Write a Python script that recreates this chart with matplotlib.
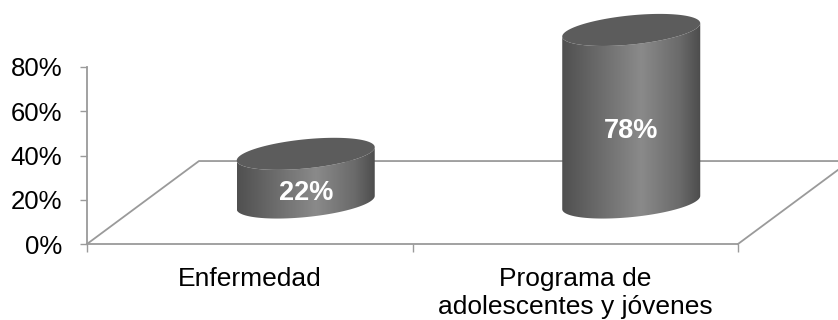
import numpy as np
import matplotlib.pyplot as plt
from matplotlib.colors import LinearSegmentedColormap
from matplotlib.patches import Polygon

plt.rcParams['font.family'] = ['Liberation Sans', 'DejaVu Sans']

categories = ['Enfermedad', 'Programa de\nadolescentes y jóvenes']
shares = [0.22, 0.78]
value_labels = ['22%', '78%']
yticks = [0, 0.2, 0.4, 0.6, 0.8]
ytick_labels = ['0%', '20%', '40%', '60%', '80%']

fig = plt.figure(figsize=(8.38, 3.2), dpi=100)
ax = fig.add_axes([87 / 838, 76 / 320, 651 / 838, 177 / 320])

# oblique depth of the floor and cylinder shape, in data units
depth_x, depth_y = 0.344, 0.375
rad_x, rad_y, tilt = 0.212, 0.066, 0.03
grey = '#9a9a9a'
n = len(categories)

# floor outline (front edge is the bottom spine)
ax.plot([0, depth_x, n + depth_x + 0.5], [0, depth_y, depth_y],
        color=grey, lw=1.3, clip_on=False, zorder=1)
ax.plot([n, n + depth_x], [0, depth_y], color=grey, lw=1.3, clip_on=False, zorder=1)

shade = LinearSegmentedColormap.from_list('shade', [
    (0.0, '#505050'), (0.15, '#5f5f5f'), (0.57, '#8a8a8a'),
    (0.85, '#6a6a6a'), (1.0, '#4c4c4c')])
grad = np.linspace(0, 1, 256).reshape(1, -1)
t = np.linspace(0, np.pi, 80)
tt = np.linspace(0, 2 * np.pi, 160)

for i, (v, lab) in enumerate(zip(shares, value_labels)):
    cx = i + 0.5 + depth_x / 2
    y0 = depth_y / 2
    y1 = y0 + v
    ex = cx + rad_x * np.cos(t)
    front = -rad_y * np.sin(t) + tilt * np.cos(t)
    xs = np.concatenate([ex[::-1], ex])
    ys = np.concatenate([y0 + front[::-1], y1 + front])
    body = Polygon(np.column_stack([xs, ys]), closed=True, facecolor='none',
                   edgecolor='none', clip_on=False)
    ax.add_patch(body)
    im = ax.imshow(grad, cmap=shade, aspect='auto', zorder=3,
                   extent=[cx - rad_x, cx + rad_x, y0 - 0.1, y1 + 0.1])
    im.set_clip_path(body)
    im.set_clip_box(fig.bbox)

    top = np.column_stack([cx + rad_x * np.cos(tt),
                           y1 - rad_y * np.sin(tt) + tilt * np.cos(tt)])
    ax.add_patch(Polygon(top, closed=True, facecolor='#5c5c5c', edgecolor='none',
                         zorder=4, clip_on=False))
    ax.text(cx, y0 - rad_y + v / 2, lab, color='white', fontsize=19.5,
            fontweight='bold', ha='center', va='center', zorder=5)

ax.set_xlim(0, n)
ax.set_ylim(0, 0.8)
ax.set_yticks(yticks, ytick_labels)
ax.set_xticks(range(n + 1), [])
ax.set_xticks([i + 0.5 for i in range(n)], categories, minor=True)
ax.tick_params(axis='y', length=5, width=1, color=grey, pad=13, labelsize=18.5)
ax.tick_params(axis='x', which='major', length=6, width=1, color=grey)
ax.tick_params(axis='x', which='minor', length=0, pad=16.5, labelsize=19)
for s in ['top', 'right']:
    ax.spines[s].set_visible(False)
for s in ['left', 'bottom']:
    ax.spines[s].set_color(grey)
    ax.spines[s].set_linewidth(1.3)
ax.patch.set_visible(False)

fig.savefig('out.png', dpi=100)
